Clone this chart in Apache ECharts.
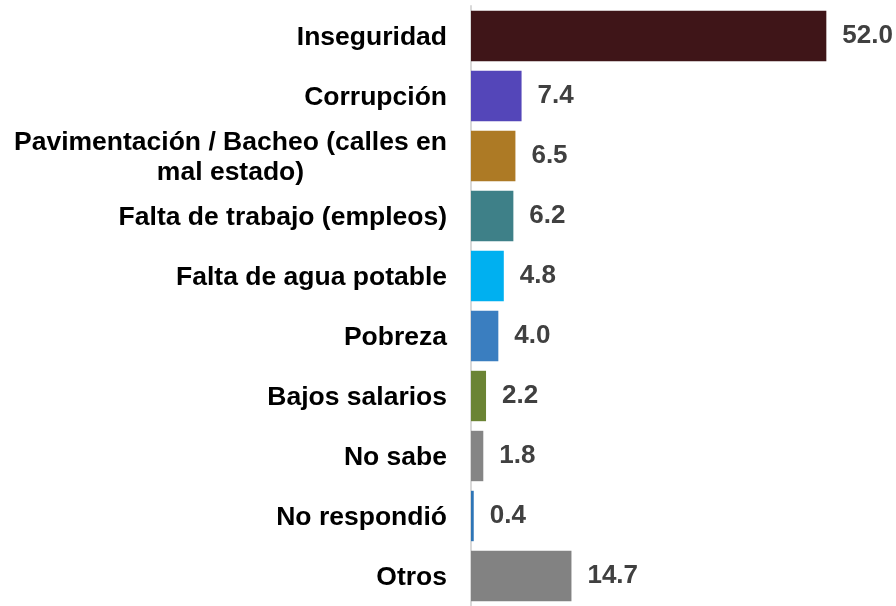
<!DOCTYPE html>
<html>
<head>
<meta charset="utf-8">
<script src="https://cdn.jsdelivr.net/npm/echarts@6/dist/echarts.min.js"></script>
<style>
  html, body { margin: 0; padding: 0; background: #fff; }
  #chart { width: 896px; height: 606px; }
</style>
</head>
<body>
<div id="chart"></div>
<script>
// problemas principales (%)
var categories = [
  'Inseguridad',
  'Corrupción',
  'Pavimentación / Bacheo (calles en\nmal estado)',
  'Falta de trabajo (empleos)',
  'Falta de agua potable',
  'Pobreza',
  'Bajos salarios',
  'No sabe',
  'No respondió',
  'Otros'
];
var values = [52.0, 7.4, 6.5, 6.2, 4.8, 4.0, 2.2, 1.8, 0.4, 14.7];

var colors = ['#3F1518', '#5446B9', '#AD7A25', '#3E8088', '#00B0F0',
              '#3A7EC0', '#6B8434', '#858585', '#2E75B6', '#828282'];

var myChart = echarts.init(document.getElementById('chart'));
var option = {
  animation: false,
  grid: { left: 471, right: 15, top: 6, bottom: -6 },
  xAxis: {
    type: 'value',
    min: 0,
    max: 60,
    show: false
  },
  yAxis: {
    type: 'category',
    inverse: true,
    data: categories,
    axisLine: { show: true, lineStyle: { color: '#D9D9D9', width: 2 } },
    axisTick: { show: false },
    axisLabel: {
      margin: 24,
      fontFamily: 'Liberation Sans, Arial, sans-serif',
      fontWeight: 'bold',
      fontSize: 26.5,
      color: '#000',
      lineHeight: 30,
      formatter: function (v) {
        return v.split('\n').map(function (s) { return '{c|' + s + '}'; }).join('\n');
      },
      rich: {
        c: {
          align: 'center',
          fontFamily: 'Liberation Sans, Arial, sans-serif',
          fontWeight: 'bold',
          fontSize: 26.5,
          color: '#000',
          lineHeight: 30,
          padding: [3, 0, 0, 0]
        }
      }
    }
  },
  series: [{
    type: 'bar',
    barWidth: '84%',
    data: values.map(function (v, i) {
      return { value: v, itemStyle: { color: colors[i] } };
    }),
    label: {
      show: true,
      position: 'right',
      distance: 16,
      fontFamily: 'Liberation Sans, Arial, sans-serif',
      fontWeight: 'bold',
      fontSize: 26,
      color: '#404040',
      formatter: function (p) { return p.value.toFixed(1); }
    }
  }]
};
myChart.setOption(option);
</script>
</body>
</html>
